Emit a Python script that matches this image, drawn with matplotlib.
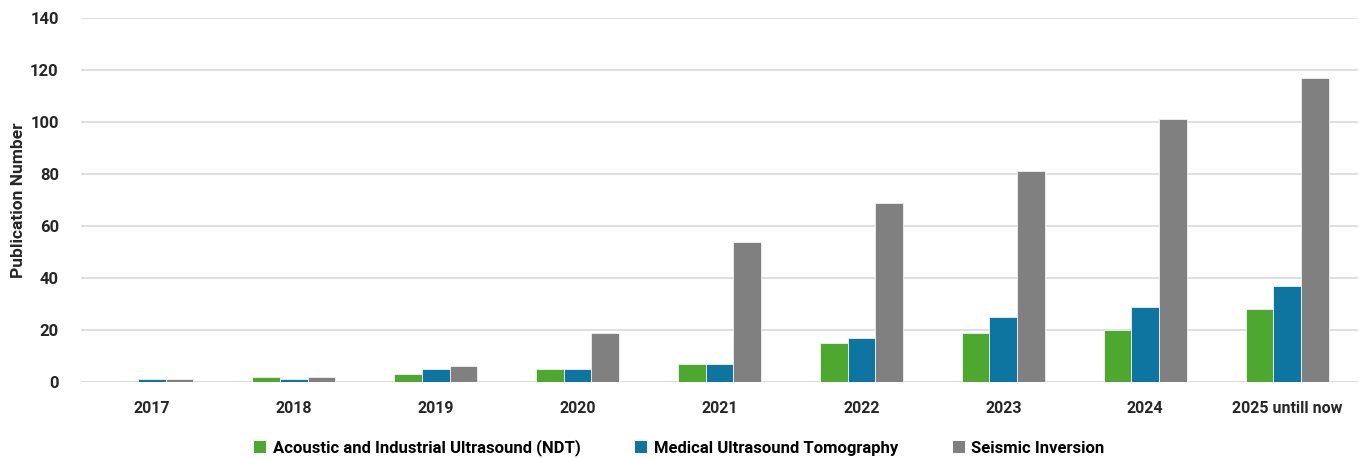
import matplotlib
matplotlib.use("Agg")
import matplotlib.pyplot as plt
import numpy as np
from matplotlib.patches import Patch

categories = ["2017", "2018", "2019", "2020", "2021", "2022", "2023", "2024", "2025 untill now"]
ndt = [0, 2, 3, 5, 7, 15, 19, 20, 28]
medical = [1, 1, 5, 5, 7, 17, 25, 29, 37]
seismic = [1, 2, 6, 19, 54, 69, 81, 101, 117]
series_names = ["Acoustic and Industrial Ultrasound (NDT)",
                "Medical Ultrasound Tomography",
                "Seismic Inversion"]
colors = ["#4EA72E", "#0E75A0", "#808080"]

plt.rcParams["font.family"] = ["Roboto", "DejaVu Sans"]

fig = plt.figure(figsize=(13.59, 4.58), dpi=100)
ax = fig.add_axes([81 / 1359, 76 / 458, 1277 / 1359, 364 / 458])

x = np.arange(len(categories))
w = 0.195
for i, (vals, c, name) in enumerate(zip([ndt, medical, seismic], colors, series_names)):
    ax.bar(x + (i - 1) * w, vals, width=w, color=c, edgecolor="#f2f2f2",
           linewidth=0.6, label=name, zorder=3)

ax.set_xlim(-0.5, len(categories) - 0.5)
ax.set_ylim(0, 140)
ax.set_yticks(range(0, 141, 20))
ax.yaxis.grid(True, color="#d9d9d9", linewidth=1.2, zorder=0)
ax.set_axisbelow(True)
for s in ax.spines.values():
    s.set_visible(False)
ax.axhline(0, color="#d9d9d9", linewidth=1.2, zorder=1)
ax.tick_params(axis="both", length=0, labelcolor="#262626")
ax.tick_params(axis="y", pad=16, labelsize=12)
ax.tick_params(axis="x", pad=14, labelsize=11.5)
ax.set_xticks(x)
ax.set_xticklabels(categories, fontweight="bold")
for t in ax.get_yticklabels():
    t.set_fontweight("bold")
ax.set_ylabel("Publication Number", fontsize=12.5, fontweight="bold",
              color="#262626")
ax.yaxis.set_label_coords(-55 / 1277, 0.5)

handles = [Patch(facecolor=c, edgecolor="none") for c in colors]
fig.legend(handles, series_names, loc="center", bbox_to_anchor=(0.5, 10 / 458),
           ncol=3, frameon=False, handlelength=0.7,
           handleheight=0.7, handletextpad=0.4, columnspacing=3.3,
           prop={"weight": "bold", "size": 12})

fig.savefig("out.png", dpi=100, facecolor="white")
